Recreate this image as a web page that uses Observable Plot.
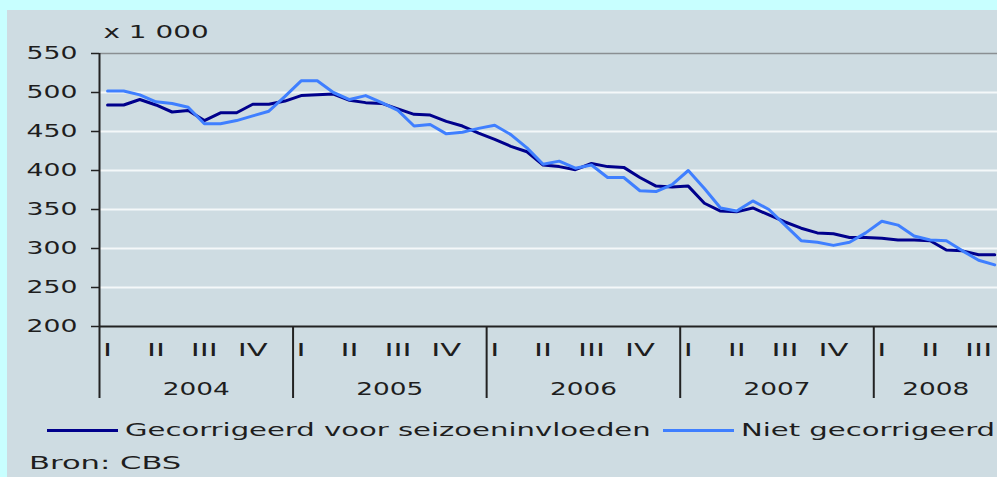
<!DOCTYPE html>
<html><head><meta charset="utf-8">
<script src="https://cdn.jsdelivr.net/npm/d3@7"></script>
<script src="https://cdn.jsdelivr.net/npm/@observablehq/plot@0.6"></script>
<style>
html,body{margin:0;padding:0;}
body{width:997px;height:477px;background:#c8ffff;overflow:hidden;position:relative;font-family:"DejaVu Sans",Verdana,sans-serif;color:#1e1e1e;}
#panel{position:absolute;left:7px;top:10px;width:990px;height:467px;background:#cedce2;overflow:hidden;}
#chart{position:absolute;left:0;top:0;}
.leg{position:absolute;top:410px;height:20px;display:flex;align-items:center;white-space:nowrap;font-size:17px;}
.leg .sw{display:inline-block;width:71px;height:3px;margin-right:7px;}
.leg .tx{display:inline-block;transform:scaleX(1.71);transform-origin:0 50%;}
#src{position:absolute;left:22px;top:443px;font-size:17px;white-space:nowrap;transform:scaleX(1.8);transform-origin:0 50%;}
</style></head>
<body>
<div id="panel"><div id="chart"></div><div id="legend"></div><div id="src"></div></div>
<script>
// ---- data (monthly, Jan 2004 .. Aug 2008), x 1 000 ----
const startYear = 2004;
const gecorrigeerd = [
  484, 484, 491, 484, 475, 477, 464, 474, 474, 485, 485, 489,
  496, 497, 498, 490, 487, 486, 479, 472, 471, 463, 457, 448,
  440, 431, 424, 407, 405, 401, 409, 405, 404, 391, 380, 379,
  380, 358, 348, 347, 352, 343, 334, 326, 320, 319, 314, 314,
  313, 311, 311, 310, 298, 297, 292, 292
];
const nietGecorrigeerd = [
  502, 502, 497, 488, 486, 481, 460, 460, 464, 470, 476, 495,
  515, 515, 500, 491, 496, 487, 477, 457, 459, 447, 449, 454,
  458, 446, 429, 408, 412, 403, 407, 391, 391, 374, 373, 382,
  400, 377, 352, 348, 361, 350, 330, 310, 308, 304, 308, 320,
  335, 330, 316, 311, 310, 297, 285, 279
];
const seriesNames = ["Gecorrigeerd voor seizoeninvloeden", "Niet gecorrigeerd"];
const seriesColors = ["#00008c", "#3f7fff"];
const years = ["2004", "2005", "2006", "2007", "2008"];
const quarterLabels = ["I", "II", "III", "IV"];
const yTicks = [200, 250, 300, 350, 400, 450, 500, 550];
const unitLabel = "x 1 000";
const sourceText = "Bron: CBS";
const visibleMonths = 55.67; // where the picture cuts the time axis

// ---- derived tables ----
const rows = [];
[gecorrigeerd, nietGecorrigeerd].forEach((arr, s) => {
  arr.forEach((v, i) => rows.push({series: seriesNames[s], m: i + 0.5, v}));
});
const quarterTicks = [], quarterText = new Map();
years.forEach((y, k) => quarterLabels.forEach((q, j) => {
  const p = 12 * k + 3 * j + 0.5;
  if (p < visibleMonths) { quarterTicks.push(p); quarterText.set(p, q); }
}));
const yearStarts = years.map((y, k) => 12 * k);
const yearTicks = [], yearText = new Map();
years.forEach((y, k) => {
  const c = (12 * k + Math.min(12 * k + 12, visibleMonths)) / 2;
  yearTicks.push(c); yearText.set(c, y);
});

const font = '"DejaVu Sans", Verdana, sans-serif';
const chart = Plot.plot({
  width: 990, height: 400,
  marginLeft: 92, marginRight: 0, marginTop: 43, marginBottom: 84,
  style: {background: "transparent", fontFamily: font, fontSize: "17px", color: "#1e1e1e", overflow: "visible"},
  x: {type: "linear", domain: [0, visibleMonths], axis: null},
  y: {domain: [200, 550], axis: null},
  color: {domain: seriesNames, range: seriesColors},
  marks: [
    Plot.ruleY(yTicks.filter(v => v > 200 && v < 550), {stroke: "#f4f8f9", strokeWidth: 2}),
    Plot.ruleY([550], {stroke: "#8a8f92", strokeWidth: 1.5}),
    Plot.axisY({ticks: yTicks, label: null, tickSize: 8, tickPadding: 14, fontSize: 17, stroke: "#222", strokeWidth: 1.5, tickFormat: d => String(d)}),
    Plot.axisX({ticks: yearStarts, label: null, tickSize: 72, tickFormat: () => "", stroke: "#222", strokeWidth: 2}),
    Plot.axisX({ticks: quarterTicks, label: null, tickSize: 0, tickPadding: 17, fontSize: 17, tickFormat: d => quarterText.get(d)}),
    Plot.axisX({ticks: yearTicks, label: null, tickSize: 0, tickPadding: 56, fontSize: 17, tickFormat: d => yearText.get(d)}),
    Plot.ruleX([0], {stroke: "#222", strokeWidth: 2}),
    Plot.ruleY([200], {stroke: "#222", strokeWidth: 2}),
    Plot.text([unitLabel], {text: d => d, frameAnchor: "top-left", textAnchor: "start", lineAnchor: "middle", dx: 4, dy: -21, fontSize: 17, fill: "#1e1e1e"}),
    Plot.line(rows.filter(r => r.series === seriesNames[0]), {x: "m", y: "v", stroke: "series", strokeWidth: 3}),
    Plot.line(rows.filter(r => r.series === seriesNames[1]), {x: "m", y: "v", stroke: "series", strokeWidth: 3})
  ]
});

// stretch texts horizontally like the reference's wide bitmap font
function scaleFor(s) {
  if (quarterLabels.includes(s)) return 1.8;
  if (years.includes(s)) return 1.55;
  if (s === unitLabel) return 1.64;
  return 1.57;
}
chart.querySelectorAll("text").forEach(t => {
  const s = t.textContent.trim();
  if (!s) return;
  const x = parseFloat(t.getAttribute("x")) || 0;
  const tr = t.getAttribute("transform") || "";
  t.setAttribute("transform", `${tr} translate(${x},0) scale(${scaleFor(s)},1) translate(${-x},0)`);
});
document.getElementById("chart").appendChild(chart);

// legend
const legend = document.getElementById("legend");
const legLeft = [40, 656];
seriesNames.forEach((name, i) => {
  const d = document.createElement("div");
  d.className = "leg";
  d.style.left = legLeft[i] + "px";
  const sw = document.createElement("span"); sw.className = "sw"; sw.style.background = seriesColors[i];
  const tx = document.createElement("span"); tx.className = "tx"; tx.textContent = name;
  d.appendChild(sw); d.appendChild(tx);
  legend.appendChild(d);
});
document.getElementById("src").textContent = sourceText;
</script>
</body></html>
